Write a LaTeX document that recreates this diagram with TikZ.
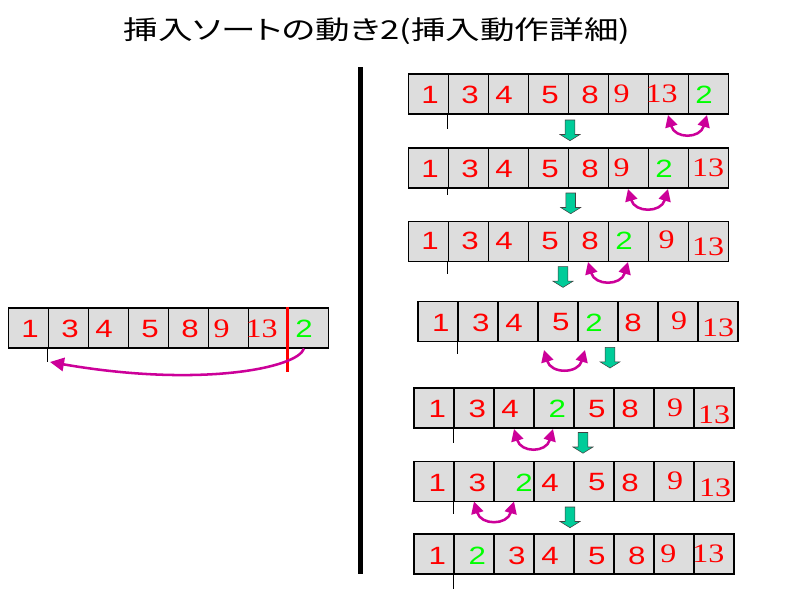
\documentclass[tikz,border=0pt]{standalone}
\usepackage{fontspec}
\usetikzlibrary{arrows.meta}
\setmainfont{Liberation Sans}
\newfontfamily\sansdig[FakeStretch=1.25]{Liberation Sans}
\newfontfamily\serifdig[FakeStretch=1.2]{Liberation Serif}
\newfontfamily\jpfont[FakeStretch=1.33,RawFeature=+palt]{Noto Sans CJK JP}
\definecolor{cellgray}{RGB}{221,221,221}
\definecolor{arrgreen}{RGB}{0,204,153}
\definecolor{swapmag}{RGB}{204,0,153}
\definecolor{numred}{RGB}{255,0,0}
\definecolor{numgreen}{RGB}{0,255,0}
\tikzset{
  cellbox/.style={draw=black, fill=cellgray, line width=0.9pt, minimum width=30pt,
    minimum height=30pt, inner sep=0pt, anchor=north west},
  sr/.style={text=numred, inner sep=0pt, font=\sansdig\fontsize{18.75}{20}\selectfont},
  sg/.style={text=numgreen, inner sep=0pt, font=\sansdig\fontsize{18.75}{20}\selectfont},
  tr/.style={text=numred, inner sep=0pt, font=\serifdig\fontsize{20}{22}\selectfont},
  tickline/.style={draw=black, line width=0.75pt},
  swaparr/.style={draw=swapmag, line width=1.9pt,
    {Triangle[length=9pt,width=9pt]}-{Triangle[length=9pt,width=9pt]}},
  longarr/.style={draw=swapmag, line width=1.9pt, -{Triangle[length=10.5pt,width=10pt]}},
  redbar/.style={draw=numred, line width=2.25pt},
  downarr/.pic={\path[draw=black!75, fill=arrgreen, line width=0.4pt]
    (-4.8,0) -- (4.8,0) -- (4.8,14.5) -- (10,14.5) -- (0,20.7) -- (-10,14.5)
    -- (-4.8,14.5) -- cycle;}
}
\begin{document}
\begin{tikzpicture}[x=0.75pt,y=-0.75pt]
\fill[white] (0,0) rectangle (800,600);
\useasboundingbox (0,0) rectangle (800,600);
% title
\node[font=\jpfont\fontsize{19.5}{22}\selectfont, inner sep=0pt] (title) at (377,31) {挿入ソートの動き2(挿入動作詳細)};
% separator
\coordinate (sepT) at (360.5,67);
\coordinate (sepB) at (360.5,574);
\draw[line width=3.75pt] (sepT) -- (sepB);
% cells
\foreach \r/\lx/\ty in {rl/7.5/307.3, r1/407.5/73.3, r2/407.5/147.3, r3/407.5/220.7,
    r4/417.3/300.7, r5/413.3/387.3, r6/413.3/460.7, r7/413.3/533.3}{
  \foreach \i in {1,...,8}{
    \node[cellbox] (\r c\i) at ({\lx+40*(\i-1)},\ty) {};
  }
}
% ticks
\foreach \r/\len in {rl/13, r1/14, r2/6, r3/12, r4/12, r5/14, r6/12, r7/14}{
  \draw[tickline] (\r c2.south west) -- ++(0,\len);
}
% left row
\node[sr] (rld1) at (30,329) {1};
\node[sr] (rld2) at (70,329) {3};
\node[sr] (rld3) at (104,329) {4};
\node[sr] (rld4) at (150,329) {5};
\node[sr] (rld5) at (190,329) {8};
\node[tr] (rld6) at (221.7,328.3) {9};
\node[tr] (rld7) at (261.7,328.3) {13};
\node[sg] (rld8) at (304,329) {2};
% row 1
\node[sr] (r1d1) at (430,95) {1};
\node[sr] (r1d2) at (470,95) {3};
\node[sr] (r1d3) at (504,95) {4};
\node[sr] (r1d4) at (550,95) {5};
\node[sr] (r1d5) at (590,95) {8};
\node[tr] (r1d6) at (621.7,94.2) {9};
\node[tr] (r1d7) at (661.7,94.2) {13};
\node[sg] (r1d8) at (704,95) {2};
% row 2
\node[sr] (r2d1) at (430,169) {1};
\node[sr] (r2d2) at (470,169) {3};
\node[sr] (r2d3) at (504,169) {4};
\node[sr] (r2d4) at (550,169) {5};
\node[sr] (r2d5) at (590,169) {8};
\node[tr] (r2d6) at (621.7,167.3) {9};
\node[sg] (r2d7) at (664,169) {2};
\node[tr] (r2d8) at (708,167.3) {13};
% row 3
\node[sr] (r3d1) at (430,240.8) {1};
\node[sr] (r3d2) at (470,240.8) {3};
\node[sr] (r3d3) at (504,240.8) {4};
\node[sr] (r3d4) at (550,240.8) {5};
\node[sr] (r3d5) at (590,240.8) {8};
\node[sg] (r3d6) at (624,240.8) {2};
\node[tr] (r3d7) at (666.7,240) {9};
\node[tr] (r3d8) at (708,247) {13};
% row 4
\node[sr] (r4d1) at (440.7,322.5) {1};
\node[sr] (r4d2) at (480.7,322.5) {3};
\node[sr] (r4d3) at (514,322.5) {4};
\node[sr] (r4d4) at (560.7,322.5) {5};
\node[sg] (r4d5) at (594,322.5) {2};
\node[sr] (r4d6) at (633,322.5) {8};
\node[tr] (r4d7) at (679,320.8) {9};
\node[tr] (r4d8) at (718,328) {13};
% row 5
\node[sr] (r5d1) at (437.3,409) {1};
\node[sr] (r5d2) at (477.3,409) {3};
\node[sr] (r5d3) at (510,409) {4};
\node[sg] (r5d4) at (557.3,409) {2};
\node[sr] (r5d5) at (596.7,409) {5};
\node[sr] (r5d6) at (630,409) {8};
\node[tr] (r5d7) at (675,407.5) {9};
\node[tr] (r5d8) at (714,414.7) {13};
% row 6
\node[sr] (r6d1) at (437.3,482.5) {1};
\node[sr] (r6d2) at (477.3,482.5) {3};
\node[sg] (r6d3) at (524,482.5) {2};
\node[sr] (r6d4) at (550,482.5) {4};
\node[sr] (r6d5) at (596.7,482.5) {5};
\node[sr] (r6d6) at (630,482.5) {8};
\node[tr] (r6d7) at (675,480.8) {9};
\node[tr] (r6d8) at (715,488) {13};
% row 7
\node[sr] (r7d1) at (437.3,555.8) {1};
\node[sg] (r7d2) at (477.3,555.8) {2};
\node[sr] (r7d3) at (516.7,555.8) {3};
\node[sr] (r7d4) at (550,555.8) {4};
\node[sr] (r7d5) at (596.7,555.8) {5};
\node[sr] (r7d6) at (636.7,555.8) {8};
\node[tr] (r7d7) at (668.3,554) {9};
\node[tr] (r7d8) at (708.3,554) {13};
% green down arrows
\pic (g1) at (570,120) {downarr};
\pic (g2) at (570.7,193) {downarr};
\pic (g3) at (563,266.7) {downarr};
\pic (g4) at (610,347.3) {downarr};
\pic (g5) at (583,432.5) {downarr};
\pic (g6) at (570,507) {downarr};
% swap arrows
\coordinate (s1a) at (668,115);   \coordinate (s1b) at (707,115);
\coordinate (s2a) at (628,189);   \coordinate (s2b) at (668,189);
\coordinate (s3a) at (588,262);   \coordinate (s3b) at (628,262);
\coordinate (s4a) at (544,350);   \coordinate (s4b) at (585,350);
\coordinate (s5a) at (514,429);   \coordinate (s5b) at (553,429);
\coordinate (s6a) at (474,501.5); \coordinate (s6b) at (514,501.5);
\foreach \k in {1,...,6}{
  \draw[swaparr] (s\k a) .. controls +(7,24) and +(-7,24) .. (s\k b);
}
% left insertion arrow
\draw[redbar] (rlc8.north west) -- ++(0,65);
\coordinate (ls) at (304,348.5);
\coordinate (le) at (50,362);
\draw[longarr] (ls) .. controls (298,368) and (200,388) .. (le);
\end{tikzpicture}
\end{document}
